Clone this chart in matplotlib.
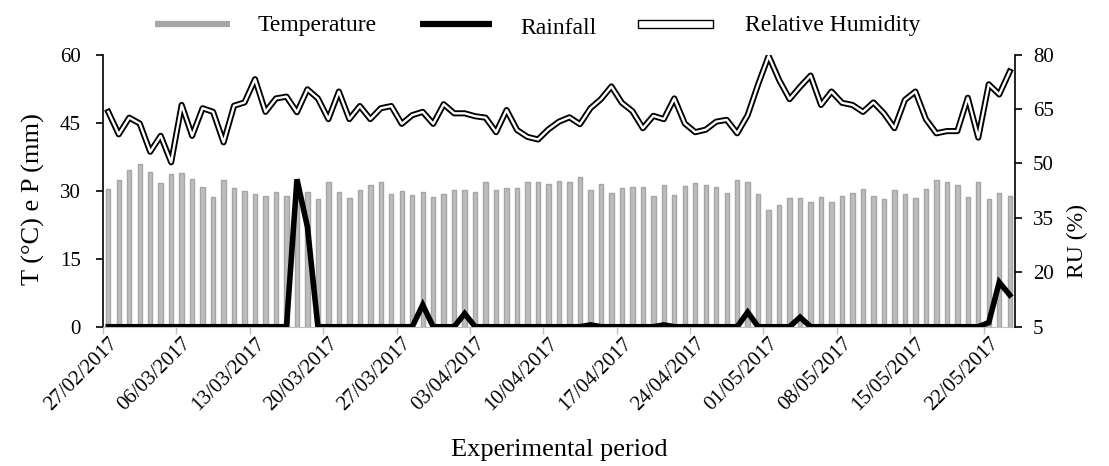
import matplotlib
matplotlib.use("Agg")
import matplotlib.pyplot as plt
from matplotlib.lines import Line2D
from matplotlib.patches import Rectangle
import numpy as np
import datetime as dt

start = dt.date(2017, 2, 27)
n_days = 87
dates = [start + dt.timedelta(days=i) for i in range(n_days)]
date_labels = [d.strftime("%d/%m/%Y") for d in dates]

temperature = [30.4, 32.4, 34.6, 35.8, 34.2, 31.7, 33.7, 33.9, 32.6, 30.8,
               28.6, 32.3, 30.6, 29.9, 29.2, 28.9, 29.8, 28.9, 29.0, 29.8,
               28.1, 31.9, 29.8, 28.3, 30.1, 31.2, 31.9, 29.2, 29.9, 29.0,
               29.6, 28.7, 29.2, 30.1, 30.2, 29.8, 32.0, 30.1, 30.6, 30.6,
               32.0, 31.8, 31.4, 32.1, 32.0, 33.0, 30.2, 31.5, 29.5, 30.6,
               30.9, 30.9, 28.8, 31.2, 29.1, 31.0, 31.7, 31.3, 30.7, 29.5,
               32.3, 32.0, 29.3, 25.8, 26.8, 28.4, 28.4, 27.6, 28.6, 27.6,
               28.8, 29.5, 30.3, 28.8, 28.1, 30.1, 29.2, 28.3, 30.4, 32.4,
               31.8, 31.3, 28.5, 32.0, 28.1, 29.5, 28.9]

rainfall = [0] * 87
rainfall[18] = 32.5
rainfall[19] = 22.0
rainfall[30] = 4.8
rainfall[34] = 2.9
rainfall[46] = 0.4
rainfall[53] = 0.4
rainfall[61] = 3.2
rainfall[66] = 2.1
rainfall[84] = 0.9
rainfall[85] = 9.8
rainfall[86] = 7.0

humidity = [64.2, 58.0, 62.6, 61.0, 53.2, 57.6, 50.3, 66.1, 57.6, 65.2,
            64.2, 55.8, 65.9, 66.8, 73.2, 64.2, 67.9, 68.4, 64.1, 70.4,
            67.9, 62.2, 69.8, 62.2, 65.8, 62.2, 65.2, 65.8, 60.9, 63.3,
            64.2, 60.9, 66.3, 63.8, 63.8, 63.0, 62.6, 58.6, 64.7, 59.2,
            57.3, 56.6, 59.4, 61.5, 62.7, 60.8, 65.2, 67.7, 71.2, 66.7,
            64.4, 59.7, 63.1, 62.2, 67.9, 61.0, 58.6, 59.3, 61.5, 62.0,
            58.3, 63.3, 71.8, 79.6, 73.0, 67.7, 71.1, 74.2, 66.1, 69.8,
            66.7, 66.1, 64.2, 66.8, 63.8, 59.7, 67.5, 69.8, 62.2, 58.3,
            58.9, 58.9, 68.1, 57.1, 71.8, 69.0, 75.3]

left_ticks = [0, 15, 30, 45, 60]
right_ticks = [5, 20, 35, 50, 65, 80]
legend_labels = ['Temperature', 'Rainfall', 'Relative Humidity']

plt.rcParams['font.family'] = ['Liberation Serif', 'DejaVu Serif']

W, H = 1109, 466
fig = plt.figure(figsize=(W / 100, H / 100), dpi=100)
ax = fig.add_axes([0.0929, 0.2989, 0.8223, 0.5841])
x = np.arange(n_days)

ax.bar(x, temperature, width=0.42, color='#BDBDBD', edgecolor='#A5A5A5',
       linewidth=1.0, zorder=2)
ax.plot(x, rainfall, color='black', lw=4.0, solid_joinstyle='miter', zorder=3)

ax.set_xlim(-0.5, n_days - 0.5)
ax.set_ylim(0, 60)
ax.set_yticks(left_ticks)
ax.tick_params(axis='y', direction='out', length=5, width=1.2, labelsize=15, pad=11)
ax.set_xticks(x[::7])
ax.set_xticklabels([date_labels[i] for i in range(0, n_days, 7)], rotation=45,
                   ha='right', rotation_mode='anchor', fontsize=15)
ax.tick_params(axis='x', length=0, pad=5)
ax.set_xticks(np.arange(-0.5, n_days, 7), minor=True)
ax.tick_params(axis='x', which='minor', length=5, color='#BFBFBF', width=1)
for s in ['top', 'right']:
    ax.spines[s].set_visible(False)
ax.spines['bottom'].set_color('#BFBFBF')
ax.spines['left'].set_linewidth(1.2)
ax.set_xlabel('Experimental period', fontsize=19, labelpad=18)

ax2 = ax.twinx()
ax2.set_ylim(5, 80)
ax2.set_yticks(right_ticks)
ax2.plot(x, humidity, color='black', lw=4.4, zorder=3)
ax2.plot(x, humidity, color='white', lw=1.7, zorder=4)
ax2.tick_params(axis='y', direction='out', length=5, width=1.2, labelsize=15, pad=8)
for s in ['top', 'left', 'bottom']:
    ax2.spines[s].set_visible(False)
ax2.spines['right'].set_linewidth(1.2)

# axis titles
fig.text(33 / W, 1 - 199 / H, 'T (°C) e P (mm)', rotation=90, fontsize=19,
         ha='center', va='center')
fig.text(1077 / W, 1 - 241 / H, 'RU (%)', rotation=90, fontsize=17,
         ha='center', va='center')

# legend (manual placement)
def fx(px):
    return px / W

def fy(py):
    return 1 - py / H

fig.add_artist(Line2D([fx(155), fx(230)], [fy(24), fy(24)], color='#A6A6A6',
                      lw=4.5, solid_capstyle='butt'))
fig.text(fx(258), fy(25), legend_labels[0], fontsize=17, va='center', ha='left')
fig.add_artist(Line2D([fx(420), fx(492)], [fy(24), fy(24)], color='black',
                      lw=4.5, solid_capstyle='butt'))
fig.text(fx(520), fy(29), legend_labels[1], fontsize=17, va='center', ha='left')
fig.add_artist(Rectangle((fx(638), fy(28)), fx(75), 8 / H, facecolor='white',
                         edgecolor='black', linewidth=1.0,
                         transform=fig.transFigure))
fig.text(fx(745), fy(25), legend_labels[2], fontsize=17, va='center', ha='left')

fig.savefig('out.png', dpi=100)
